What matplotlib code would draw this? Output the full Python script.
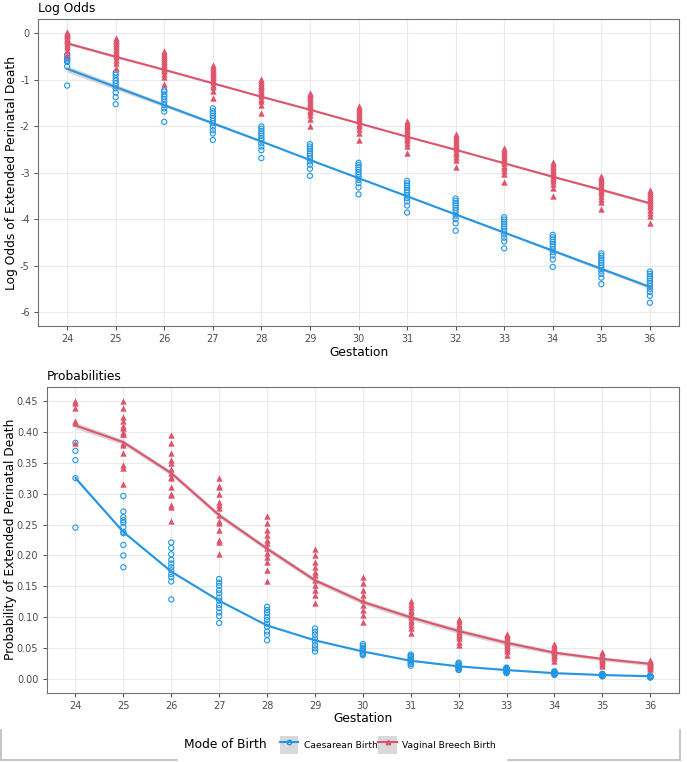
import matplotlib
matplotlib.use('Agg')
import matplotlib.pyplot as plt
from matplotlib.lines import Line2D
from matplotlib.patches import Patch
from matplotlib.legend_handler import HandlerTuple

plt.rcParams['font.family'] = ['DejaVu Sans']
plt.rcParams['axes.unicode_minus'] = False

# ---- data ----
gestation = list(range(24, 37))

# log odds, fitted lines
lo_fit_caes = [-0.77, -1.16, -1.55, -1.94, -2.33, -2.73, -3.12, -3.51, -3.90, -4.29, -4.68, -5.07, -5.46]
lo_fit_vag = [-0.22, -0.51, -0.79, -1.08, -1.37, -1.65, -1.94, -2.23, -2.51, -2.80, -3.09, -3.37, -3.66]
lo_se_caes = [0.07, 0.055, 0.04, 0.03, 0.02, 0.015, 0.012, 0.015, 0.02, 0.025, 0.03, 0.035, 0.04]
lo_se_vag = [0.03, 0.025, 0.02, 0.015, 0.012, 0.01, 0.01, 0.01, 0.012, 0.015, 0.02, 0.025, 0.03]

# log odds, points per gestation
lo_pts_caes = [
    [-0.47, -0.49, -0.54, -0.57, -0.60, -0.62, -0.72, -1.13],
    [-0.85, -0.90, -0.97, -1.03, -1.08, -1.14, -1.19, -1.28, -1.38, -1.53],
    [-1.23, -1.26, -1.32, -1.37, -1.42, -1.48, -1.55, -1.62, -1.69, -1.91],
    [-1.62, -1.68, -1.73, -1.78, -1.83, -1.89, -1.94, -2.01, -2.09, -2.16, -2.30],
    [-2.01, -2.06, -2.11, -2.16, -2.21, -2.26, -2.31, -2.37, -2.44, -2.52, -2.69],
    [-2.39, -2.44, -2.49, -2.54, -2.59, -2.64, -2.70, -2.76, -2.83, -2.92, -3.07],
    [-2.79, -2.84, -2.89, -2.94, -2.99, -3.04, -3.10, -3.16, -3.23, -3.32, -3.47],
    [-3.18, -3.23, -3.28, -3.33, -3.38, -3.43, -3.49, -3.55, -3.62, -3.71, -3.86],
    [-3.56, -3.61, -3.66, -3.71, -3.76, -3.81, -3.87, -3.93, -4.00, -4.09, -4.25],
    [-3.96, -4.01, -4.06, -4.11, -4.16, -4.21, -4.27, -4.33, -4.40, -4.48, -4.63],
    [-4.34, -4.39, -4.44, -4.49, -4.54, -4.59, -4.65, -4.71, -4.78, -4.87, -5.03],
    [-4.74, -4.79, -4.84, -4.89, -4.94, -4.99, -5.05, -5.11, -5.18, -5.26, -5.40],
    [-5.13, -5.18, -5.23, -5.28, -5.33, -5.38, -5.44, -5.50, -5.57, -5.65, -5.80],
]
lo_pts_vag = [
    [0.03, 0.01, -0.02, -0.05, -0.07, -0.10, -0.12, -0.15, -0.18, -0.21, -0.25, -0.29, -0.37, -0.47],
    [-0.11, -0.14, -0.18, -0.22, -0.26, -0.30, -0.34, -0.38, -0.42, -0.47, -0.52, -0.58, -0.65, -0.76],
    [-0.39, -0.43, -0.47, -0.52, -0.56, -0.60, -0.64, -0.68, -0.72, -0.77, -0.82, -0.88, -0.95, -1.10],
    [-0.69, -0.73, -0.77, -0.81, -0.85, -0.89, -0.93, -0.97, -1.01, -1.06, -1.11, -1.17, -1.24, -1.39],
    [-0.99, -1.03, -1.07, -1.11, -1.15, -1.19, -1.23, -1.27, -1.31, -1.36, -1.41, -1.47, -1.55, -1.71],
    [-1.28, -1.32, -1.36, -1.40, -1.44, -1.48, -1.52, -1.56, -1.60, -1.65, -1.70, -1.76, -1.84, -2.00],
    [-1.58, -1.62, -1.66, -1.70, -1.74, -1.78, -1.82, -1.86, -1.90, -1.95, -2.00, -2.06, -2.14, -2.30],
    [-1.89, -1.93, -1.97, -2.01, -2.05, -2.09, -2.13, -2.17, -2.21, -2.26, -2.31, -2.37, -2.44, -2.59],
    [-2.18, -2.22, -2.26, -2.30, -2.34, -2.38, -2.42, -2.46, -2.50, -2.55, -2.60, -2.66, -2.74, -2.89],
    [-2.48, -2.52, -2.56, -2.60, -2.64, -2.68, -2.72, -2.76, -2.80, -2.85, -2.90, -2.96, -3.04, -3.20],
    [-2.77, -2.81, -2.85, -2.89, -2.93, -2.97, -3.01, -3.05, -3.09, -3.14, -3.19, -3.25, -3.33, -3.50],
    [-3.08, -3.12, -3.16, -3.20, -3.24, -3.28, -3.32, -3.36, -3.40, -3.45, -3.50, -3.56, -3.63, -3.78],
    [-3.38, -3.42, -3.46, -3.50, -3.54, -3.58, -3.62, -3.66, -3.70, -3.75, -3.80, -3.86, -3.94, -4.09],
]

# probabilities, smoothed lines
pr_fit_caes = [0.325, 0.238, 0.174, 0.127, 0.087, 0.063, 0.045, 0.030, 0.021, 0.015, 0.010, 0.007, 0.005]
pr_fit_vag = [0.410, 0.383, 0.333, 0.265, 0.211, 0.160, 0.125, 0.100, 0.078, 0.059, 0.043, 0.033, 0.025]
pr_se_caes = [0.003, 0.002, 0.002, 0.0015, 0.001, 0.001, 0.001, 0.001, 0.001, 0.001, 0.001, 0.001, 0.001]
pr_se_vag = [0.005, 0.004, 0.004, 0.004, 0.004, 0.004, 0.004, 0.004, 0.004, 0.004, 0.003, 0.003, 0.003]

# probabilities, points per gestation
pr_pts_caes = [
    [0.382, 0.369, 0.354, 0.325, 0.245],
    [0.296, 0.271, 0.262, 0.257, 0.253, 0.246, 0.238, 0.236, 0.217, 0.200, 0.181],
    [0.221, 0.212, 0.202, 0.193, 0.187, 0.181, 0.176, 0.170, 0.165, 0.158, 0.129],
    [0.162, 0.156, 0.151, 0.144, 0.139, 0.132, 0.127, 0.120, 0.115, 0.108, 0.102, 0.091],
    [0.117, 0.112, 0.107, 0.101, 0.096, 0.090, 0.085, 0.077, 0.072, 0.063],
    [0.082, 0.077, 0.072, 0.066, 0.061, 0.055, 0.050, 0.045],
    [0.057, 0.054, 0.051, 0.049, 0.047, 0.045, 0.043, 0.041, 0.039],
    [0.040, 0.038, 0.036, 0.034, 0.032, 0.031, 0.029, 0.027, 0.025, 0.022],
    [0.027, 0.025, 0.024, 0.022, 0.021, 0.020, 0.019, 0.018, 0.016, 0.015],
    [0.019, 0.018, 0.017, 0.016, 0.015, 0.014, 0.013, 0.012, 0.011, 0.010],
    [0.013, 0.012, 0.011, 0.011, 0.010, 0.009, 0.009, 0.008, 0.007],
    [0.009, 0.008, 0.008, 0.007, 0.007, 0.006, 0.006, 0.005, 0.005],
    [0.006, 0.006, 0.005, 0.005, 0.004, 0.004, 0.004, 0.003, 0.003],
]
pr_pts_vag = [
    [0.450, 0.447, 0.438, 0.418, 0.414, 0.382],
    [0.450, 0.438, 0.424, 0.418, 0.409, 0.406, 0.400, 0.397, 0.396, 0.381, 0.378, 0.366, 0.346, 0.342, 0.315],
    [0.395, 0.381, 0.366, 0.354, 0.350, 0.339, 0.333, 0.327, 0.325, 0.311, 0.300, 0.298, 0.282, 0.279, 0.255],
    [0.325, 0.312, 0.310, 0.299, 0.287, 0.282, 0.276, 0.265, 0.255, 0.252, 0.241, 0.225, 0.222, 0.202],
    [0.263, 0.252, 0.241, 0.233, 0.225, 0.220, 0.212, 0.204, 0.198, 0.190, 0.177, 0.158],
    [0.210, 0.201, 0.190, 0.182, 0.174, 0.168, 0.160, 0.152, 0.144, 0.136, 0.123],
    [0.166, 0.155, 0.144, 0.136, 0.128, 0.120, 0.112, 0.104, 0.093],
    [0.127, 0.122, 0.117, 0.112, 0.108, 0.104, 0.100, 0.096, 0.092, 0.088, 0.083, 0.075],
    [0.098, 0.094, 0.090, 0.086, 0.083, 0.080, 0.077, 0.074, 0.070, 0.066, 0.061, 0.055],
    [0.074, 0.071, 0.068, 0.065, 0.062, 0.060, 0.058, 0.055, 0.052, 0.049, 0.045, 0.040],
    [0.057, 0.055, 0.052, 0.050, 0.048, 0.046, 0.044, 0.042, 0.040, 0.037, 0.034, 0.030],
    [0.044, 0.042, 0.040, 0.038, 0.036, 0.034, 0.033, 0.031, 0.029, 0.027, 0.025, 0.022],
    [0.032, 0.030, 0.029, 0.028, 0.026, 0.025, 0.024, 0.023, 0.021, 0.020, 0.018, 0.017],
]

labels = ['Caesarean Birth', 'Vaginal Breech Birth']
BLUE = '#2297E6'
RED = '#DF536B'
W, H = 687, 762


def flatten(groups):
    xs, ys = [], []
    for g, vals in zip(gestation, groups):
        xs += [g] * len(vals)
        ys += vals
    return xs, ys


def style(ax):
    ax.set_facecolor('white')
    for s in ax.spines.values():
        s.set_color('#707070')
        s.set_linewidth(0.8)
    ax.grid(True, color='#EBEBEB', lw=0.8)
    ax.set_axisbelow(True)
    ax.tick_params(colors='#333333', labelcolor='#4D4D4D', labelsize=7, length=3, width=0.6, pad=3)
    ax.set_xticks(gestation)
    ax.set_xlim(23.4, 36.6)
    ax.set_xlabel('Gestation', fontsize=8.8, labelpad=1)


def draw(ax, caes_pts, vag_pts, caes_fit, vag_fit, caes_se, vag_se):
    x, y = flatten(caes_pts)
    ax.scatter(x, y, marker='o', facecolors='none', edgecolors=BLUE, s=14, linewidths=0.8, zorder=2)
    x, y = flatten(vag_pts)
    ax.scatter(x, y, marker='^', color=RED, s=21, linewidths=0, zorder=2)
    for fit, se, c in [(caes_fit, caes_se, BLUE), (vag_fit, vag_se, RED)]:
        lo = [f - s for f, s in zip(fit, se)]
        hi = [f + s for f, s in zip(fit, se)]
        ax.fill_between(gestation, lo, hi, color='#999999', alpha=0.4, lw=0, zorder=3)
        ax.plot(gestation, fit, color=c, lw=1.5, zorder=4)


fig = plt.figure(figsize=(6.87, 7.62), dpi=100)
ax1 = fig.add_axes([38 / W, 1 - 326 / H, (679 - 38) / W, (326 - 19.3) / H])
ax2 = fig.add_axes([46.7 / W, 1 - 692.7 / H, (679 - 46.7) / W, (692.7 - 386.7) / H])

style(ax1)
draw(ax1, lo_pts_caes, lo_pts_vag, lo_fit_caes, lo_fit_vag, lo_se_caes, lo_se_vag)
ax1.set_ylim(-6.30, 0.295)
ax1.set_yticks(range(-6, 1))
ax1.set_title('Log Odds', loc='left', fontsize=8.8, pad=5)
fig.text(11.5 / W, 1 - 172.6 / H, 'Log Odds of Extended Perinatal Death',
         rotation=90, ha='center', va='center', fontsize=8.8)

style(ax2)
draw(ax2, pr_pts_caes, pr_pts_vag, pr_fit_caes, pr_fit_vag, pr_se_caes, pr_se_vag)
ax2.set_ylim(-0.0216, 0.4726)
yt = [i * 0.05 for i in range(10)]
ax2.set_yticks(yt)
ax2.set_yticklabels([f'{v:.2f}' for v in yt])
ax2.set_title('Probabilities', loc='left', fontsize=8.8, pad=5)
fig.text(10.5 / W, 1 - 539.7 / H, 'Probability of Extended Perinatal Death',
         rotation=90, ha='center', va='center', fontsize=8.8)

# legend strip at the bottom: open box whose base is broken by the legend
strip = dict(color='#BBBBBB', lw=1.2, transform=fig.transFigure)
fig.add_artist(Line2D([1 / W, 1 / W], [1 - 730 / H, 1 - 760 / H], **strip))
fig.add_artist(Line2D([680 / W, 680 / W], [1 - 730 / H, 1 - 760 / H], **strip))
fig.add_artist(Line2D([1 / W, 177 / W], [1 - 760 / H, 1 - 760 / H], **strip))
fig.add_artist(Line2D([508 / W, 680 / W], [1 - 760 / H, 1 - 760 / H], **strip))

fig.text(184 / W, 1 - 745 / H, 'Mode of Birth', fontsize=8.8, va='center', ha='left')
handles = [
    (Patch(facecolor='#D9D9D9', edgecolor='none'),
     Line2D([], [], color=BLUE, lw=1.5, marker='o', mfc='none', ms=3.2)),
    (Patch(facecolor='#D9D9D9', edgecolor='none'),
     Line2D([], [], color=RED, lw=1.5, marker='^', ms=3.2)),
]
fig.legend(handles, labels, handler_map={tuple: HandlerTuple(ndivide=1, pad=0)},
           loc='center left', bbox_to_anchor=(277 / W, 1 - 745 / H), ncol=2,
           frameon=False, fontsize=6.6, handlelength=2.0, handleheight=2.8,
           handletextpad=0.6, columnspacing=0.1, borderpad=0.3, borderaxespad=0)

fig.savefig('out.png', dpi=100, facecolor='white')
